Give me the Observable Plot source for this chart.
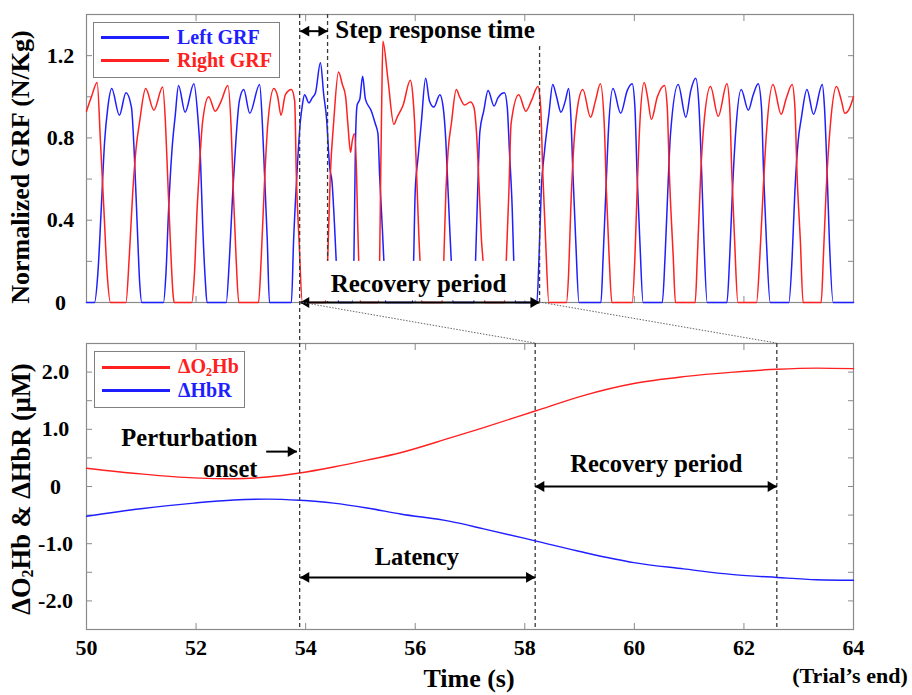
<!DOCTYPE html>
<html>
<head>
<meta charset="utf-8">
<script src="https://cdn.jsdelivr.net/npm/d3@7"></script>
<script src="https://cdn.jsdelivr.net/npm/@observablehq/plot@0.6"></script>
<style>
  body { margin: 0; background: #fff; }
  #wrap { position: relative; width: 912px; height: 695px; font-family: "Liberation Serif", "Times New Roman", serif; font-weight: bold; color: #000; }
  #wrap svg { position: absolute; left: 0; top: 0; }
  .lbl { position: absolute; white-space: nowrap; line-height: 1; }
  .legend { position: absolute; border: 1.5px solid #808080; background: #fff; box-sizing: border-box; }
  .legend .sw { position: absolute; height: 0; border-top: 3px solid; }
  .legend .tx { position: absolute; font-size: 20px; line-height: 1; transform: translateY(-50%); white-space: nowrap; }
</style>
</head>
<body>
<div id="wrap"></div>
<script>
// ---------- data ----------
const timeTicks = [50, 52, 54, 56, 58, 60, 62, 64];
const grfLabelTicks = [0, 0.4, 0.8, 1.2];
const grfMinorTicks = [0.2, 0.4, 0.6, 0.8, 1.0, 1.2];
const hbLabelTicks = [-2, -1, 0, 1, 2];
const hbMinorTicks = [-2, -1.5, -1, -0.5, 0, 0.5, 1, 1.5, 2];

// Left GRF (blue)
const leftT = [50.0,50.146,50.207,50.27,50.33,50.39,50.46,50.6,50.72,50.82,50.876,50.925,50.97,51.01,
  51.405,51.45,51.5,51.56,51.62,51.68,51.8,51.96,52.03,52.08,52.12,52.17,52.2,
  52.55,52.61,52.67,52.73,52.79,52.87,52.98,53.16,53.21,53.25,53.3,53.34,
  53.74,53.78,53.84,53.9,53.94,53.98,54.06,54.12,54.18,54.27,54.33,54.38,54.44,54.48,54.53,54.56,54.6,
  54.85,54.88,54.91,54.94,54.99,55.04,55.09,55.2,55.27,55.32,55.35,55.4,55.43,55.46,
  55.95,55.97,56.0,56.05,56.11,56.19,56.26,56.34,56.45,56.51,56.56,56.6,56.63,56.66,56.69,
  57.07,57.1,57.14,57.18,57.25,57.33,57.44,57.51,57.63,57.68,57.72,57.77,57.8,57.83,
  58.22,58.26,58.3,58.36,58.44,58.51,58.58,58.66,58.74,58.8,58.84,58.88,58.93,58.99,
  59.39,59.43,59.48,59.53,59.61,59.75,59.87,59.96,60.01,60.05,60.1,60.16,
  60.51,60.56,60.61,60.66,60.8,60.94,61.03,61.12,61.18,61.23,61.27,61.33,
  61.69,61.74,61.79,61.85,61.95,62.08,62.17,62.26,62.32,62.36,62.41,62.48,
  62.82,62.88,62.93,62.99,63.05,63.15,63.27,63.43,63.47,63.52,63.56,63.63,64.0];
const leftV = [0,0,0.14,0.46,0.78,0.95,1.04,0.91,1.02,0.95,0.70,0.38,0.10,0,
  0,0.14,0.46,0.74,0.91,1.055,0.925,1.063,0.91,0.70,0.38,0.10,0,
  0,0.22,0.54,0.80,0.98,1.035,0.92,1.06,0.87,0.62,0.30,0,
  0,0.30,0.62,0.87,0.96,1.01,0.97,0.995,1.02,1.165,1.01,0.90,0.655,0.59,0.36,0.19,0,
  0,0.19,0.785,0.96,0.99,1.10,0.99,0.93,0.87,0.82,0.62,0.36,0.19,0,
  0,0.19,0.54,0.70,0.87,1.09,0.98,0.95,1.01,0.95,0.78,0.54,0.36,0.19,0,
  0,0.19,0.54,0.83,0.93,1.03,0.955,0.995,1.02,0.95,0.735,0.46,0.19,0,
  0,0.22,0.54,0.735,0.915,1.06,1.0,0.925,0.98,1.04,0.91,0.62,0.30,0,
  0,0.22,0.54,0.85,1.04,0.92,1.03,1.063,0.95,0.62,0.30,0,
  0,0.22,0.54,0.82,1.06,0.90,1.03,1.09,0.95,0.62,0.30,0,
  0,0.22,0.54,0.83,1.035,0.935,1.01,1.063,0.95,0.62,0.30,0,
  0,0.22,0.54,0.785,0.90,1.035,0.915,1.06,0.95,0.62,0.30,0,0];

// Right GRF (red)
const rightT = [50.0,50.09,50.195,50.255,50.316,50.377,50.438,
  50.72,50.78,50.845,50.905,50.97,51.08,51.23,51.39,51.44,51.48,51.53,51.58,51.6,
  51.92,51.97,52.02,52.07,52.12,52.23,52.35,52.46,52.58,52.64,52.68,52.73,52.78,
  53.14,53.19,53.25,53.31,53.42,53.49,53.55,53.63,53.74,53.8,53.83,53.88,53.94,
  54.36,54.4,54.45,54.51,54.6,54.67,54.73,54.77,54.82,54.85,54.89,54.93,54.95,54.97,55.0,
  55.32,55.35,55.37,55.39,55.41,55.5,55.61,55.67,55.78,55.91,55.96,55.99,56.03,56.07,56.09,56.12,
  56.49,56.52,56.56,56.6,56.66,56.75,56.81,56.9,57.01,57.07,57.12,57.17,57.21,57.24,57.27,
  57.63,57.66,57.71,57.75,57.89,58.02,58.12,58.24,58.29,58.33,58.38,58.44,
  58.76,58.8,58.84,58.9,58.96,59.06,59.2,59.29,59.38,59.45,59.49,59.54,59.59,
  59.96,60.01,60.05,60.1,60.18,60.24,60.31,60.42,60.55,60.6,60.64,60.71,60.75,
  61.11,61.15,61.21,61.27,61.39,61.53,61.69,61.74,61.78,61.83,61.89,
  62.23,62.29,62.35,62.41,62.53,62.68,62.77,62.88,62.93,62.97,63.03,63.08,
  63.41,63.45,63.5,63.58,63.69,63.78,63.84,63.92,64.0];
const rightV = [0.93,1.0,1.07,0.78,0.46,0.14,0,
  0,0.22,0.54,0.75,0.88,1.04,0.935,1.047,0.88,0.62,0.30,0.04,0,
  0,0.14,0.46,0.70,0.88,1.0,0.93,0.98,1.055,0.85,0.54,0.22,0,
  0,0.22,0.59,0.87,1.04,1.0,0.91,1.01,1.035,0.98,0.62,0.30,0,
  0,0.19,0.62,0.87,1.12,1.06,1.0,0.87,0.73,0.785,0.82,0.62,0.38,0.19,0,
  0,0.19,0.62,1.0,1.27,1.09,0.866,0.9,0.96,1.08,0.995,0.87,0.59,0.30,0.19,0,
  0,0.19,0.54,0.735,0.87,1.035,1.0,0.96,0.975,0.95,0.82,0.54,0.30,0.19,0,
  0,0.19,0.54,0.87,1.01,0.93,0.98,1.05,0.95,0.62,0.30,0,
  0,0.14,0.46,0.785,0.945,1.035,0.90,0.98,1.063,0.87,0.54,0.22,0,
  0,0.22,0.54,0.87,1.07,1.0,0.89,1.0,1.055,0.95,0.62,0.22,0,
  0,0.22,0.62,0.87,1.05,0.905,1.063,0.95,0.62,0.30,0,
  0,0.22,0.54,0.82,1.06,0.915,0.99,1.06,0.95,0.62,0.30,0,
  0,0.22,0.54,0.87,1.05,0.98,0.92,0.94,1.0];

// Hemodynamics
const hbT   = [50,50.99,51.96,52.69,53.3,53.89,54.51,55.12,55.73,56.64,57.25,58.19,59.07,59.99,60.9,61.81,62.6,63.33,64];
const o2hbV = [0.32,0.22,0.15,0.135,0.165,0.235,0.34,0.46,0.59,0.85,1.03,1.32,1.59,1.80,1.92,2.0,2.05,2.07,2.06];
const hbrV  = [-0.52,-0.39,-0.29,-0.235,-0.22,-0.24,-0.29,-0.375,-0.48,-0.61,-0.74,-0.95,-1.15,-1.33,-1.44,-1.54,-1.59,-1.63,-1.64];

// Event times (s)
const onsetTime = 53.9;
const stepEndTime = 54.4;
const grfRecoveryEnd = 58.27;
const latencyEnd = 58.19;
const hbRecoveryEnd = 62.6;

// Annotations
const grfNotes = [
  {text: "Step response time", t: 54.54, v: 1.325, anchor: "start"},
  {text: "Recovery period", t: 56.06, v: 0.09, anchor: "middle"}
];
const hbNotes = [
  {text: "Perturbation", t: 53.12, v: 0.85, anchor: "end"},
  {text: "onset", t: 53.12, v: 0.30, anchor: "end"},
  {text: "Recovery period", t: 60.4, v: 0.39, anchor: "middle"},
  {text: "Latency", t: 56.03, v: -1.23, anchor: "middle"}
];
const grfSpans = [
  {t1: onsetTime, t2: stepEndTime, v: 1.319, start: true},
  {t1: onsetTime, t2: grfRecoveryEnd, v: 0, start: true}
];
const hbSpans = [
  {t1: 53.28, t2: 53.84, v: 0.61, start: false},
  {t1: latencyEnd, t2: hbRecoveryEnd, v: 0, start: true},
  {t1: onsetTime, t2: latencyEnd, v: -1.59, start: true}
];
const grfBlank = [{t1: 53.97, t2: 58.2, v1: 0.008, v2: 0.2}];

// ---------- build ----------
const BLUE = "#1e1eff", RED = "#ff2020", FRAME = "#8a8a8a", DASH = "#3a3a3a";
const W = 912, H = 695, ML = 86, MR = 59;
const FONT = "'Liberation Serif', 'Times New Roman', serif";

const leftData = leftT.map((t, i) => ({t, v: leftV[i]}));
const rightData = rightT.map((t, i) => ({t, v: rightV[i]}));
const o2hbData = hbT.map((t, i) => ({t, v: o2hbV[i]}));
const hbrData = hbT.map((t, i) => ({t, v: hbrV[i]}));

function frameTicks(yMinor) {
  return [
    Plot.axisX(timeTicks, {anchor: "bottom", tickSize: 6, dy: -6, stroke: FRAME, tickFormat: () => "", label: null}),
    Plot.axisX(timeTicks, {anchor: "top", tickSize: 6, dy: 6, stroke: FRAME, tickFormat: () => "", label: null}),
    Plot.axisY(yMinor, {anchor: "left", tickSize: 6, dx: 6, stroke: FRAME, tickFormat: () => "", label: null}),
    Plot.axisY(yMinor, {anchor: "right", tickSize: 6, dx: -6, stroke: FRAME, tickFormat: () => "", label: null})
  ];
}
function spanMarks(spans) {
  return [
    Plot.link(spans, {x1: "t1", x2: "t2", y1: "v", y2: "v", stroke: "black", strokeWidth: 2}),
    Plot.dot(spans, {x: "t2", y: "v", symbol: "triangle", r: 4, fill: "black", stroke: null, rotate: 90, dx: -6}),
    Plot.dot(spans.filter(d => d.start), {x: "t1", y: "v", symbol: "triangle", r: 4, fill: "black", stroke: null, rotate: -90, dx: 6})
  ];
}
function notes(arr, size) {
  return ["start", "middle", "end"].map(a =>
    Plot.text(arr.filter(d => d.anchor === a), {x: "t", y: "v", text: "text", textAnchor: a, lineAnchor: "middle",
      fontSize: size, fontWeight: "bold", fill: "black"}));
}

const topPlot = Plot.plot({
  width: W, height: H, marginTop: 14, marginBottom: H - 302, marginLeft: ML, marginRight: MR,
  x: {domain: [50, 64], axis: null},
  y: {domain: [0, 1.4], axis: null},
  style: {fontFamily: FONT, background: "transparent", overflow: "visible"},
  marks: [
    Plot.frame({stroke: FRAME, strokeWidth: 1.2}),
    ...frameTicks(grfMinorTicks),
    Plot.axisY(grfLabelTicks, {anchor: "left", tickSize: 0, tickPadding: 26, textAnchor: "middle", fontSize: 22, fontWeight: "bold",
      tickFormat: d => d === 0 ? "0" : d.toFixed(1), label: null}),
    Plot.line(leftData, {x: "t", y: "v", stroke: BLUE, strokeWidth: 1.5, curve: "monotone-x"}),
    Plot.line(rightData, {x: "t", y: "v", stroke: RED, strokeWidth: 1.5, curve: "monotone-x"}),
    Plot.ruleX([stepEndTime], {stroke: DASH, strokeWidth: 1.3, strokeDasharray: "4,3"}),
    Plot.ruleX([grfRecoveryEnd], {y1: 0, y2: 1.255, stroke: DASH, strokeWidth: 1.3, strokeDasharray: "4,3"}),
    Plot.rect(grfBlank, {x1: "t1", x2: "t2", y1: "v1", y2: "v2", fill: "white"}),
    ...spanMarks(grfSpans),
    ...notes(grfNotes, 25)
  ]
});

const botPlot = Plot.plot({
  width: W, height: H, marginTop: 343, marginBottom: H - 629, marginLeft: ML, marginRight: MR,
  x: {domain: [50, 64], axis: null},
  y: {domain: [-2.5, 2.5], axis: null},
  style: {fontFamily: FONT, background: "transparent", overflow: "visible"},
  marks: [
    Plot.frame({stroke: FRAME, strokeWidth: 1.2}),
    ...frameTicks(hbMinorTicks),
    Plot.axisY(hbLabelTicks, {anchor: "left", tickSize: 0, tickPadding: 31, textAnchor: "middle", fontSize: 22, fontWeight: "bold",
      tickFormat: d => d === 0 ? "0" : (d < 0 ? "-" : "") + Math.abs(d).toFixed(1), label: null}),
    Plot.axisX(timeTicks, {anchor: "bottom", tickSize: 0, tickPadding: 10, fontSize: 22, fontWeight: "bold",
      tickFormat: d => String(d), label: null}),
    Plot.ruleX([latencyEnd, hbRecoveryEnd], {stroke: DASH, strokeWidth: 1.3, strokeDasharray: "4,3"}),
    Plot.line(o2hbData, {x: "t", y: "v", stroke: RED, strokeWidth: 1.4, curve: "monotone-x"}),
    Plot.line(hbrData, {x: "t", y: "v", stroke: BLUE, strokeWidth: 1.4, curve: "monotone-x"}),
    ...spanMarks(hbSpans),
    ...notes(hbNotes, 24.5)
  ]
});

const wrap = document.getElementById("wrap");
wrap.appendChild(botPlot);
wrap.appendChild(topPlot);

// connectors across the two panels, placed with the plots' own scales
const xs = topPlot.scale("x"), yt = topPlot.scale("y"), yb = botPlot.scale("y");
const ov = d3.create("svg").attr("width", W).attr("height", H);
ov.append("line")
  .attr("x1", xs.apply(onsetTime)).attr("x2", xs.apply(onsetTime))
  .attr("y1", yt.apply(1.4)).attr("y2", yb.apply(-2.5))
  .attr("stroke", DASH).attr("stroke-width", 1.3).attr("stroke-dasharray", "4,3");
[[onsetTime, latencyEnd], [grfRecoveryEnd, hbRecoveryEnd]].forEach(([a, b]) => {
  ov.append("line")
    .attr("x1", xs.apply(a)).attr("y1", yt.apply(0))
    .attr("x2", xs.apply(b)).attr("y2", yb.apply(2.5))
    .attr("stroke", "#666").attr("stroke-width", 1).attr("stroke-dasharray", "1.5,1.5");
});
wrap.appendChild(ov.node());

// titles and legends
function addLabel(html, cx, cy, size, rotate) {
  const d = document.createElement("div");
  d.className = "lbl";
  d.innerHTML = html;
  d.style.fontSize = size + "px";
  d.style.left = cx + "px";
  d.style.top = cy + "px";
  d.style.transform = "translate(-50%,-50%)" + (rotate ? " rotate(-90deg)" : "");
  wrap.appendChild(d);
}
addLabel("Normalized GRF (N/Kg)", 21, 167, 26, true);
addLabel("ΔO<sub style='font-size:0.6em;vertical-align:-0.15em'>2</sub>Hb &amp; ΔHbR (μM)", 22, 489, 26.5, true);
addLabel("Time (s)", 469, 679, 26, false);
addLabel("(Trial’s end)", 850, 676, 22, false);

function addLegend(items, left, top, w, h) {
  const box = document.createElement("div");
  box.className = "legend";
  Object.assign(box.style, {left: left + "px", top: top + "px", width: w + "px", height: h + "px"});
  items.forEach(it => {
    const sw = document.createElement("div");
    sw.className = "sw";
    Object.assign(sw.style, {left: "7px", width: "68px", top: (it.y - 1.5) + "px", borderTopColor: it.color});
    const tx = document.createElement("div");
    tx.className = "tx";
    tx.innerHTML = it.html;
    Object.assign(tx.style, {left: "83px", top: it.y + "px", color: it.color});
    box.appendChild(sw); box.appendChild(tx);
  });
  wrap.appendChild(box);
}
addLegend([{html: "Left GRF", color: BLUE, y: 14}, {html: "Right GRF", color: RED, y: 37}], 93, 22, 187, 56);
addLegend([{html: "ΔO<sub style='font-size:0.6em;vertical-align:-0.2em'>2</sub>Hb", color: RED, y: 15}, {html: "ΔHbR", color: BLUE, y: 38}], 94, 351, 151, 57);
</script>
</body>
</html>
